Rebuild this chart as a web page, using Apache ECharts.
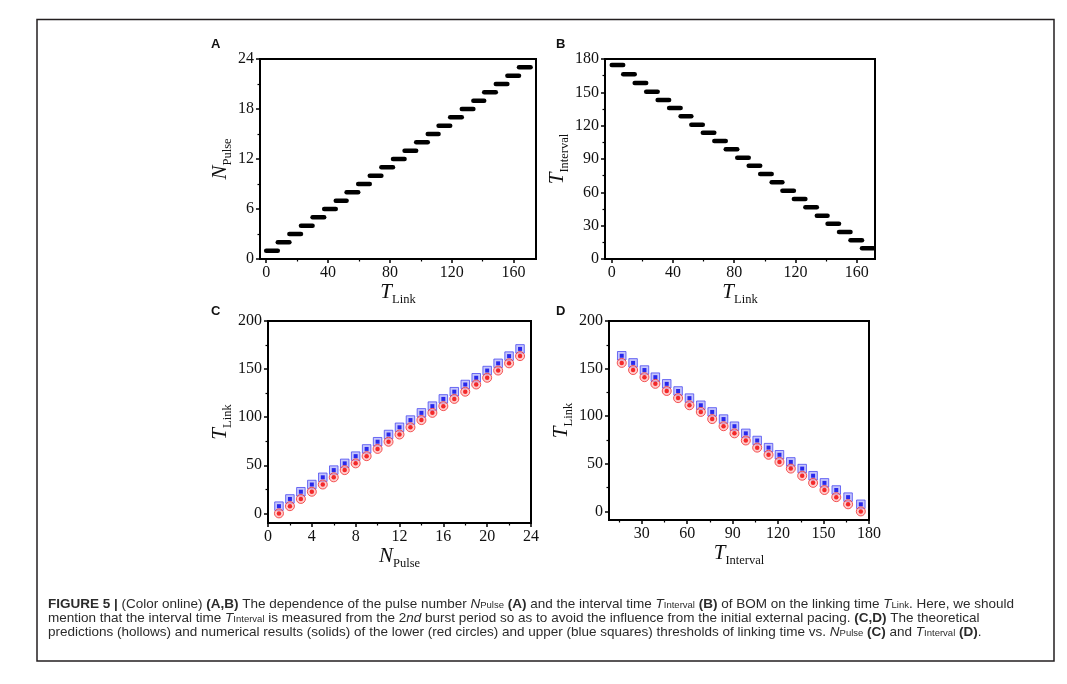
<!DOCTYPE html>
<html><head><meta charset="utf-8">
<script src="https://cdn.jsdelivr.net/npm/echarts@6/dist/echarts.min.js"></script>
<style>html,body{margin:0;padding:0;background:#fff}#c{width:1067px;height:684px}</style>
</head><body><div id="c"></div>
<script>
// ---- data ----
const nPulse = [1,2,3,4,5,6,7,8,9,10,11,12,13,14,15,16,17,18,19,20,21,22,23];
const tLinkLower = [0,7.5,15,22.5,30,37.5,45,52,59.5,67,74.5,82,89.5,97,104.5,111.5,119,126.5,134,141,148.5,156,163.5];
const tLinkUpper = [7.5,15,22.5,30,37.5,45,52,59.5,67,74.5,82,89.5,97,104.5,111.5,119,126.5,134,141,148.5,156,163.5,171];
const tInterval = [174.6,166.2,158.4,150.6,143.1,135.9,128.4,120.9,113.7,106.2,98.7,91.2,84,76.5,69,61.5,54,46.5,39,31.8,24.3,16.8,9.6];
const dCount = 22; // panel D shows N = 1..22

// ---- tick labels ----
const aXTicks = [0,40,80,120,160], aXMinor = [20,60,100,140];
const aYTicks = [0,6,12,18,24], aYMinor = [3,9,15,21];
const bXTicks = [0,40,80,120,160], bXMinor = [20,60,100,140];
const bYTicks = [0,30,60,90,120,150,180], bYMinor = [15,45,75,105,135,165];
const cXTicks = [0,4,8,12,16,20,24], cXMinor = [2,6,10,14,18,22];
const cYTicks = [0,50,100,150,200], cYMinor = [25,75,125,175];
const dXTicks = [30,60,90,120,150,180], dXMinor = [15,45,75,105,135,165];
const dYTicks = [0,50,100,150,200], dYMinor = [25,75,125,175];

const SERIF = 'Liberation Serif';
const SANS = 'Liberation Sans';

const nameRich = {
  t: {fontFamily: SERIF, fontStyle: 'italic', fontSize: 21, lineHeight: 21, color: '#111', verticalAlign: 'top'},
  s: {fontFamily: SERIF, fontSize: 12.5, lineHeight: 21, color: '#111', verticalAlign: 'top', padding: [11,0,0,0]}
};

function axisPair(gridIndex, min, max, ticks, minors, name, isX, nameGap) {
  const major = {
    type: 'value', gridIndex, min, max, position: isX ? 'bottom' : 'left',
    axisLine: {show: true, onZero: false, lineStyle: {color: '#000', width: 2}},
    axisTick: {show: true, inside: false, length: 4, lineStyle: {color: '#000', width: 1.5}, customValues: ticks},
    axisLabel: {show: true, customValues: ticks, fontFamily: SERIF, fontSize: 16, color: '#111', margin: 6},
    splitLine: {show: false},
    name, nameLocation: 'middle', nameGap, nameRotate: isX ? 0 : 90,
    nameTextStyle: {rich: nameRich}
  };
  const minor = {
    type: 'value', gridIndex, min, max, position: isX ? 'bottom' : 'left',
    axisLine: {show: false, onZero: false},
    axisTick: {show: true, inside: false, length: 2.5, lineStyle: {color: '#000', width: 1.2}, customValues: minors},
    axisLabel: {show: false},
    splitLine: {show: false}
  };
  return [major, minor];
}

const xAxis = [
  ...axisPair(0, -4, 174.5, aXTicks, aXMinor, '{t|T}{s|Link}', true, 18),
  ...axisPair(1, -4.4, 172, bXTicks, bXMinor, '{t|T}{s|Link}', true, 18),
  ...axisPair(2, 0, 24, cXTicks, cXMinor, '{t|N}{s|Pulse}', true, 19),
  ...axisPair(3, 8.4, 180, dXTicks, dXMinor, '{t|T}{s|Interval}', true, 21)
];
const yAxis = [
  ...axisPair(0, 0, 24, aYTicks, aYMinor, '{t|N}{s|Pulse}', false, 22),
  ...axisPair(1, 0, 180, bYTicks, bYMinor, '{t|T}{s|Interval}', false, 31),
  ...axisPair(2, -10, 200, cYTicks, cYMinor, '{t|T}{s|Link}', false, 32),
  ...axisPair(3, -9, 200, dYTicks, dYMinor, '{t|T}{s|Link}', false, 29)
];

const gridStyle = {show: true, borderColor: '#000', borderWidth: 2, backgroundColor: 'transparent', containLabel: false};
const grid = [
  Object.assign({left: 260, top: 59, width: 276, height: 200}, gridStyle),
  Object.assign({left: 605, top: 59, width: 270, height: 200}, gridStyle),
  Object.assign({left: 268, top: 321, width: 263, height: 202}, gridStyle),
  Object.assign({left: 609, top: 321, width: 260, height: 199}, gridStyle)
];

function segRender(params, api) {
  const p1 = api.coord([api.value(0), api.value(2)]);
  const p2 = api.coord([api.value(1), api.value(2)]);
  return {type: 'line', shape: {x1: p1[0], y1: p1[1], x2: p2[0], y2: p2[1]},
          style: {stroke: '#000', lineWidth: 4.5, lineCap: 'round'}};
}

const aData = nPulse.map((n, i) => [tLinkLower[i], tLinkUpper[i], n]);
const bData = nPulse.map((n, i) => [tLinkLower[i], tLinkUpper[i], tInterval[i]]);
const cUpper = nPulse.map((n, i) => [n, tLinkUpper[i]]);
const cLower = nPulse.map((n, i) => [n, tLinkLower[i]]);
const dUpper = tInterval.slice(0, dCount).map((t, i) => [t, tLinkUpper[i]]);
const dLower = tInterval.slice(0, dCount).map((t, i) => [t, tLinkLower[i]]);

function markerSeries(xi, yi, upper, lower) {
  return [
    {type: 'scatter', xAxisIndex: xi, yAxisIndex: yi, data: upper, symbol: 'rect', symbolSize: 8.5,
     itemStyle: {color: 'rgba(160,160,250,0.75)', borderColor: '#4a4af0', borderWidth: 1}, z: 2, silent: true},
    {type: 'scatter', xAxisIndex: xi, yAxisIndex: yi, data: upper, symbol: 'rect', symbolSize: 4,
     itemStyle: {color: '#0000e6'}, z: 3, silent: true},
    {type: 'scatter', xAxisIndex: xi, yAxisIndex: yi, data: lower, symbol: 'circle', symbolSize: 9,
     itemStyle: {color: 'rgba(255,175,175,0.8)', borderColor: '#f03030', borderWidth: 1}, z: 4, silent: true},
    {type: 'scatter', xAxisIndex: xi, yAxisIndex: yi, data: lower, symbol: 'circle', symbolSize: 4.5,
     itemStyle: {color: '#f00000'}, z: 5, silent: true}
  ];
}

const series = [
  {type: 'custom', xAxisIndex: 0, yAxisIndex: 0, data: aData, renderItem: segRender, encode: {x: [0, 1], y: 2}, silent: true},
  {type: 'custom', xAxisIndex: 2, yAxisIndex: 2, data: bData, renderItem: segRender, encode: {x: [0, 1], y: 2}, silent: true},
  ...markerSeries(4, 4, cUpper, cLower),
  ...markerSeries(6, 6, dUpper, dLower)
];

const capColor = '#2b2b2b';
const CF = 13.5;
const capRich = {
  n: {fontFamily: SANS, fontSize: CF, lineHeight: 14, color: capColor, verticalAlign: 'top'},
  b: {fontFamily: SANS, fontSize: CF, lineHeight: 14, color: '#231f20', fontWeight: 'bold', verticalAlign: 'top'},
  i: {fontFamily: SANS, fontSize: CF, lineHeight: 14, color: capColor, fontStyle: 'italic', verticalAlign: 'top'},
  sub: {fontFamily: SANS, fontSize: 9.5, lineHeight: 14, color: capColor, verticalAlign: 'top', padding: [3.5,0,0,0]}
};
const capLines = [
  '{b|FIGURE 5 |}{n| (Color online) }{b|(A,B)}{n| The dependence of the pulse number }{i|N}{sub|Pulse}{n| }{b|(A)}{n| and the interval time }{i|T}{sub|Interval}{n| }{b|(B)}{n| of BOM on the linking time }{i|T}{sub|Link}{n|. Here, we should}',
  '{n|mention that the interval time }{i|T}{sub|Interval}{n| is measured from the 2}{i|nd}{n| burst period so as to avoid the influence from the initial external pacing. }{b|(C,D)}{n| The theoretical}',
  '{n|predictions (hollows) and numerical results (solids) of the lower (red circles) and upper (blue squares) thresholds of linking time vs. }{i|N}{sub|Pulse}{n| }{b|(C)}{n| and }{i|T}{sub|Interval}{n| }{b|(D)}{n|.}'
];

const letterStyle = {fontFamily: SANS, fontSize: 13, fontWeight: 'bold', fill: '#111', verticalAlign: 'top'};
const graphic = [
  {type: 'rect', shape: {x: 37, y: 19.5, width: 1017, height: 641.5}, style: {fill: 'none', stroke: '#231f20', lineWidth: 1.5}, silent: true},
  {type: 'text', style: Object.assign({x: 211, y: 38, text: 'A'}, letterStyle)},
  {type: 'text', style: Object.assign({x: 556, y: 38, text: 'B'}, letterStyle)},
  {type: 'text', style: Object.assign({x: 211, y: 305, text: 'C'}, letterStyle)},
  {type: 'text', style: Object.assign({x: 556, y: 305, text: 'D'}, letterStyle)},
  ...capLines.map((t, k) => ({type: 'text', style: {x: 48, y: 597 + 14 * k, text: t, rich: capRich, verticalAlign: 'top', fill: capColor}}))
];

const chart = echarts.init(document.getElementById('c'), null, {renderer: 'canvas'});
chart.setOption({animation: false, backgroundColor: '#fff', grid, xAxis, yAxis, series, graphic});
</script>
</body></html>
